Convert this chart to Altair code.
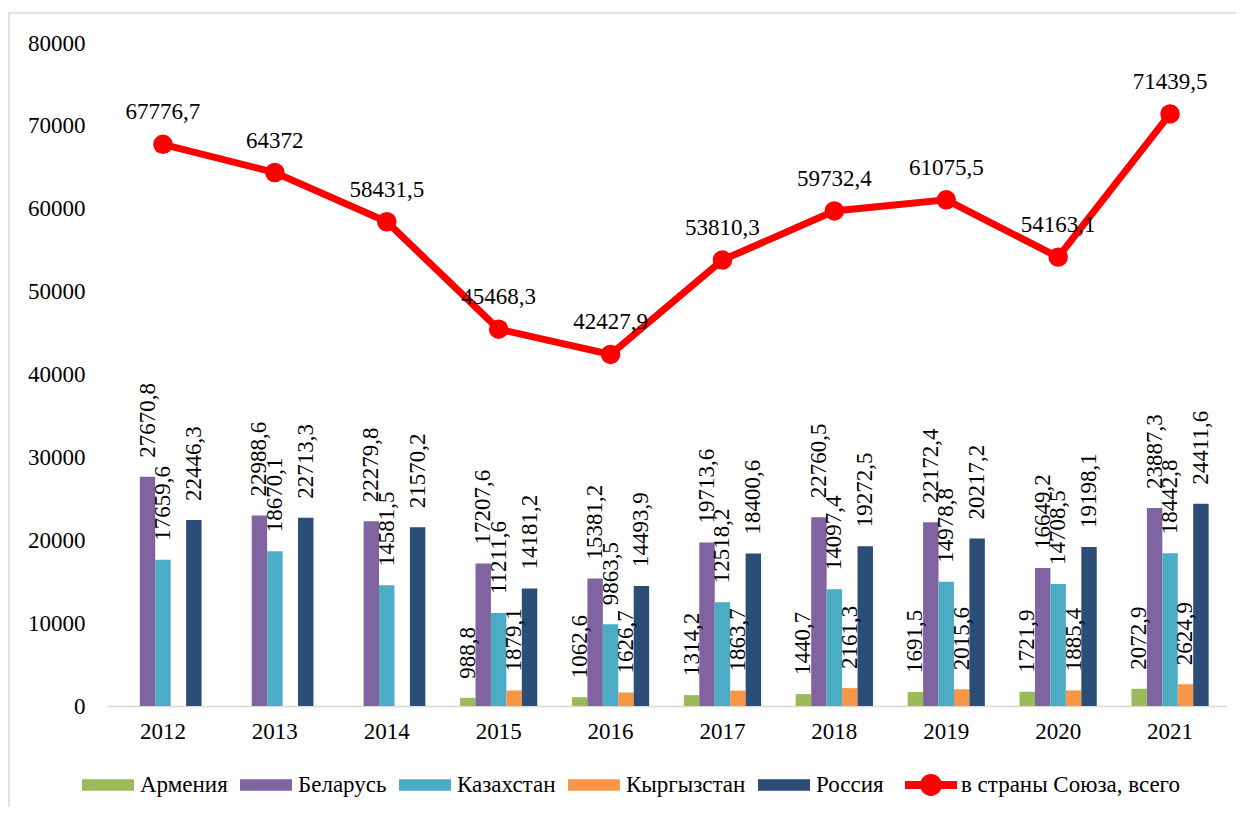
import altair as alt
import pandas as pd

years = ["2012", "2013", "2014", "2015", "2016", "2017", "2018", "2019", "2020", "2021"]
countries = ["Армения", "Беларусь", "Казахстан", "Кыргызстан", "Россия"]
armenia = [None, None, None, 988.8, 1062.6, 1314.2, 1440.7, 1691.5, 1721.9, 2072.9]
belarus = [27670.8, 22988.6, 22279.8, 17207.6, 15381.2, 19713.6, 22760.5, 22172.4, 16649.2, 23887.3]
kazakhstan = [17659.6, 18670.1, 14581.5, 11211.6, 9863.5, 12518.2, 14097.4, 14978.8, 14708.5, 18442.8]
kyrgyzstan = [None, None, None, 1879.1, 1626.7, 1863.7, 2161.3, 2015.6, 1885.4, 2624.9]
russia = [22446.3, 22713.3, 21570.2, 14181.2, 14493.9, 18400.6, 19272.5, 20217.2, 19198.1, 24411.6]
total_name = "в страны Союза, всего"
total = [67776.7, 64372, 58431.5, 45468.3, 42427.9, 53810.3, 59732.4, 61075.5, 54163.1, 71439.5]
y_ticks = [0, 10000, 20000, 30000, 40000, 50000, 60000, 70000, 80000]

bar_colors = ["#9BBB59", "#8064A2", "#4BACC6", "#F79646", "#2C4D75"]
line_color = "#FF0000"
FONT = "Liberation Serif"
FS = 23


def fmt(v):
    s = f"{v:.1f}"
    if s.endswith(".0"):
        s = s[:-2]
    return s.replace(".", ",")


rows = []
for name, vals in zip(countries, [armenia, belarus, kazakhstan, kyrgyzstan, russia]):
    for y, v in zip(years, vals):
        if v is not None:
            rows.append({"year": y, "name": name, "value": v, "label": fmt(v)})
bars_df = pd.DataFrame(rows)
line_df = pd.DataFrame({"year": years, "name": total_name, "value": total,
                        "label": [fmt(v) for v in total]})

x_enc = alt.X("year:N", sort=years,
              scale=alt.Scale(paddingInner=0.31, paddingOuter=0.155),
              axis=alt.Axis(title=None, labelAngle=0, ticks=False, labelPadding=14,
                            domainColor="#d9d9d9", domainWidth=1.5,
                            labelFont=FONT, labelFontSize=FS, labelColor="#000000"))
y_enc = alt.Y("value:Q", scale=alt.Scale(domain=[0, 80000], nice=False),
              axis=alt.Axis(title=None, values=y_ticks, format="d", domain=False, ticks=False,
                            grid=False, labelPadding=22, labelFont=FONT, labelFontSize=FS,
                            labelColor="#000000"))
xoff = alt.XOffset("name:N", sort=countries,
                   scale=alt.Scale(domain=countries, paddingInner=0, paddingOuter=0))

rect_path = "M-1,-0.22H1V0.22H-1Z"
line_path = ("M-1,-0.15H1V0.15H-1Z "
             "M-0.42,0A0.42,0.42 0 1,1 0.42,0A0.42,0.42 0 1,1 -0.42,0Z")

LEG_Y = 716

bars = alt.Chart(bars_df).mark_bar().encode(
    x=x_enc, y=y_enc, xOffset=xoff,
    color=alt.Color("name:N", sort=countries,
                    scale=alt.Scale(domain=countries, range=bar_colors),
                    legend=alt.Legend(title=None, orient="none", legendX=-25, legendY=LEG_Y,
                                      direction="horizontal", symbolType=rect_path,
                                      symbolSize=2704, symbolStrokeWidth=0,
                                      labelFont=FONT, labelFontSize=FS, labelColor="#000000",
                                      labelOffset=6, columnPadding=12, labelLimit=400)),
)

bar_labels = alt.Chart(bars_df).mark_text(
    angle=270, align="left", baseline="middle", dx=19,
    font=FONT, fontSize=FS, color="#000000"
).encode(x=x_enc, y=y_enc, xOffset=xoff, text="label:N")

line = alt.Chart(line_df).mark_line(color=line_color, strokeWidth=7).encode(x=x_enc, y=y_enc)

points = alt.Chart(line_df).mark_circle(size=380, opacity=1).encode(
    x=x_enc, y=y_enc,
    color=alt.Color("name:N", scale=alt.Scale(domain=[total_name], range=[line_color]),
                    legend=alt.Legend(title=None, orient="none", legendX=798, legendY=LEG_Y,
                                      direction="horizontal", symbolType=line_path,
                                      symbolSize=2704, symbolStrokeWidth=0,
                                      labelFont=FONT, labelFontSize=FS, labelColor="#000000",
                                      labelOffset=4, labelLimit=400)),
)

line_labels = alt.Chart(line_df).mark_text(
    align="center", baseline="middle", dy=-32, font=FONT, fontSize=FS, color="#000000"
).encode(x=x_enc, y=y_enc, text="label:N")

border = alt.Chart(alt.Data(values=[{"b": 1}])).mark_rect(
    fill="transparent", stroke="#d9d9d9", strokeWidth=1.5
).encode(x=alt.value(-98), x2=alt.value(1200), y=alt.value(-30), y2=alt.value(800))

chart = alt.layer(border, bars, bar_labels, line, points, line_labels).resolve_scale(
    color="independent"
).properties(
    width=1119, height=663,
    padding={"left": 99, "top": 35, "right": 10, "bottom": 101},
    autosize=alt.AutoSizeParams(type="none"),
).configure(font=FONT).configure_view(stroke=None).configure_text(font=FONT).configure_axis(
    labelFont=FONT
).configure_legend(labelFont=FONT)

chart.save("out.html", embed_options={"renderer": "svg", "actions": False})
